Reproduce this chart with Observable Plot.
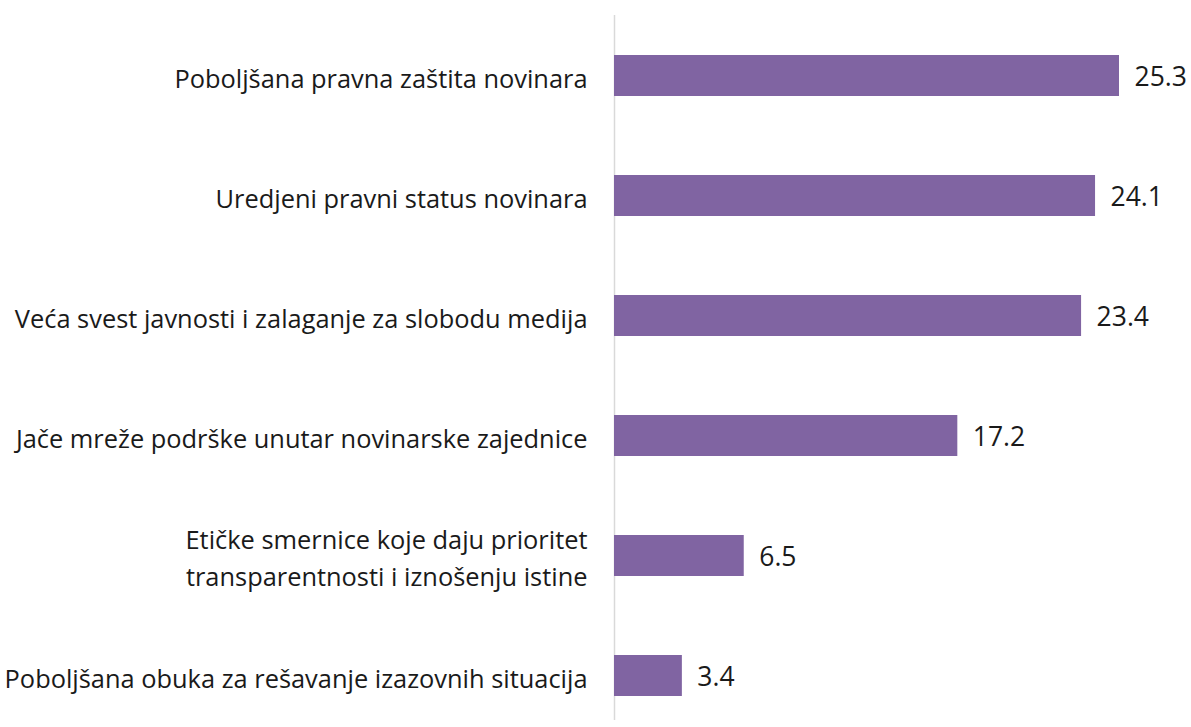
<!DOCTYPE html>
<html>
<head>
<meta charset="utf-8">
<script src="https://cdn.jsdelivr.net/npm/d3@7"></script>
<script src="https://cdn.jsdelivr.net/npm/@observablehq/plot@0.6"></script>
<style>
  html, body { margin: 0; padding: 0; background: #fff; }
  #chart svg { display: block; }
</style>
</head>
<body>
<div id="chart"></div>
<script>
const categories = [
  "Poboljšana pravna zaštita novinara",
  "Uredjeni pravni status novinara",
  "Veća svest javnosti i zalaganje za slobodu medija",
  "Jače mreže podrške unutar novinarske zajednice",
  "Etičke smernice koje daju prioritet\ntransparentnosti i iznošenju istine",
  "Poboljšana obuka za rešavanje izazovnih situacija"
];
const values = [25.3, 24.1, 23.4, 17.2, 6.5, 3.4];

const data = categories.map((c, i) => ({category: c, value: values[i]}));

const chart = Plot.plot({
  width: 1191,
  height: 727,
  marginLeft: 614,
  marginRight: 72,
  marginTop: 15,
  marginBottom: 7,
  style: {fontFamily: "'Open Sans', sans-serif", color: "#222", background: "#fff"},
  x: {domain: [0, 25.3], axis: null},
  y: {domain: categories, range: [15, 735], paddingInner: 0.66, paddingOuter: 0.33, label: null},
  marks: [
    Plot.axisY({tickSize: 0, tickPadding: 27, fontSize: 25.4, lineHeight: 1.46, fill: "#1a1a1a"}),
    Plot.ruleX([0], {stroke: "#d9d9d9", strokeWidth: 1.5}),
    Plot.barX(data, {x: "value", y: "category", fill: "#8064A2"}),
    Plot.text(data, {x: "value", y: "category", text: d => d.value.toFixed(1), textAnchor: "start", dx: 15, dy: 2, fontSize: 26.5, fill: "#1a1a1a"})
  ]
});
document.getElementById("chart").appendChild(chart);
</script>
</body>
</html>
